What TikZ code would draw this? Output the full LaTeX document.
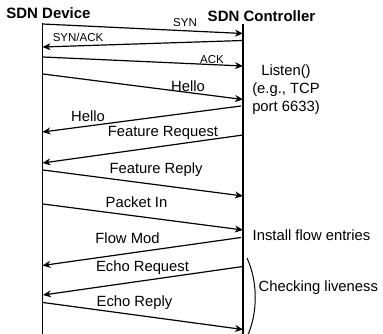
\documentclass[tikz,border=0pt]{standalone}
\usepackage{fontspec}
\setmainfont{Liberation Sans}
\usetikzlibrary{arrows.meta}
\begin{document}
\begin{tikzpicture}[x=1pt,y=-1pt,
  life/.style={line width=1.4pt},
  msg/.style={line width=1.2pt,-{Stealth[length=8pt,width=7pt,inset=2.5pt]}},
  lbl/.style={inner sep=0pt,font=\fontsize{14.8}{17}\selectfont},
  small/.style={inner sep=0pt,font=\fontsize{11.5}{14}\selectfont},
  title/.style={inner sep=0pt,font=\fontsize{15}{18}\selectfont\bfseries},
  note/.style={inner sep=0pt,font=\fontsize{14.8}{18}\selectfont,align=center}]
\useasboundingbox (0,0) rectangle (383,334);
% titles
\node[title] (dev) at (48.5,13) {SDN Device};
\node[title] (ctl) at (261.5,16) {SDN Controller};
% lifelines
\coordinate (Ltop) at (42.5,23);
\coordinate (Lbot) at (42.5,336);
\coordinate (Rtop) at (243,24);
\coordinate (Rbot) at (243,336);
\draw[life] (Ltop) -- (Lbot);
\draw[life] (Rtop) -- (Rbot);
% message endpoints
\coordinate (a1) at (42.5,24);  \coordinate (b1) at (243,33.5);
\coordinate (b2) at (243,40.5); \coordinate (a2) at (42.5,47);
\coordinate (a3) at (43,57);    \coordinate (b3) at (243,66);
\coordinate (a4) at (43,74);    \coordinate (b4) at (243,99.5);
\coordinate (b5) at (241,106);  \coordinate (a5) at (42.5,132);
\coordinate (b6) at (243,135);  \coordinate (a6) at (42.5,163);
\coordinate (a7) at (43,170);   \coordinate (b7) at (243,196);
\coordinate (a8) at (43,204);   \coordinate (b8) at (243,230);
\coordinate (b9) at (241,237.5);\coordinate (a9) at (42.5,265.5);
\coordinate (b10) at (243,266.5);\coordinate (a10) at (43,295);
\coordinate (a11) at (43,302.5);\coordinate (b11) at (243,329.5);
\draw[msg] (a1) -- (b1);
\draw[msg] (b2) -- (a2);
\draw[msg] (a3) -- (b3);
\draw[msg] (a4) -- (b4);
\draw[msg] (b5) -- (a5);
\draw[msg] (b6) -- (a6);
\draw[msg] (a7) -- (b7);
\draw[msg] (a8) -- (b8);
\draw[msg] (b9) -- (a9);
\draw[msg] (b10) -- (a10);
\draw[msg] (a11) -- (b11);
% labels
\node[small] (l1) at (185,22.5) {SYN};
\node[small] (l2) at (78,37) {SYN/ACK};
\node[small] (l3) at (212,60) {ACK};
\node[lbl] (l4) at (188,86) {Hello};
\node[lbl] (l5) at (88,116) {Hello};
\node[lbl] (l6) at (163,133) {Feature Request};
\node[lbl] (l7) at (156,169.5) {Feature Reply};
\node[lbl] (l8) at (136.5,202.5) {Packet In};
\node[lbl] (l9) at (127.5,238.5) {Flow Mod};
\node[lbl] (l10) at (142.5,268) {Echo Request};
\node[lbl] (l11) at (134.5,303) {Echo Reply};
% notes
\node[note] (listen) at (286,90) {Listen()\\(e.g., TCP\\port 6633)};
\node[lbl,anchor=west] (inst) at (252.5,235) {Install flow entries};
\node[lbl,anchor=west] (live) at (258.5,288) {Checking liveness};
\coordinate (p1) at (247,258);
\coordinate (p2) at (247,337);
\draw[line width=1pt] (p1) .. controls (258,282) and (258,313) .. (p2);
\end{tikzpicture}
\end{document}
